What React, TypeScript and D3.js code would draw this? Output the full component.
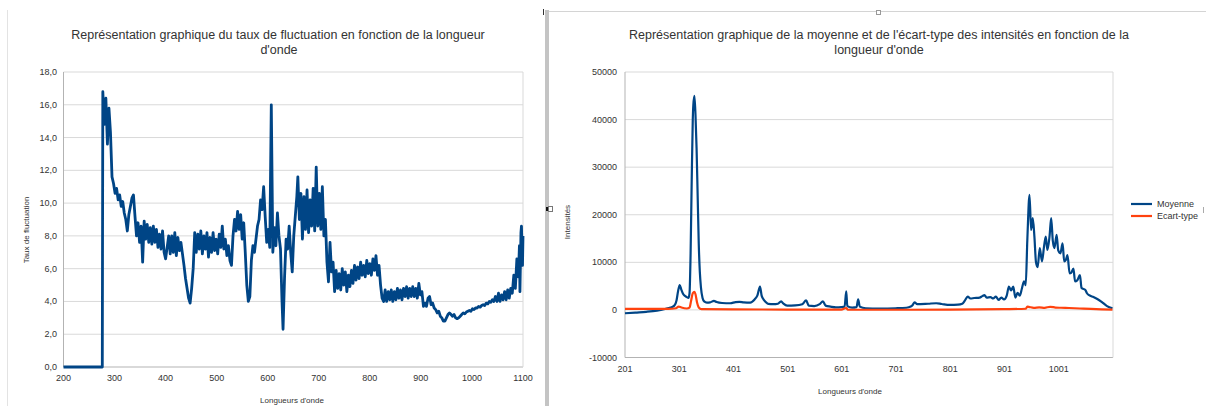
import React from "react";
import * as d3 from "d3";

// ---------- Left chart: Taux de fluctuation ----------
const fluxTicksY = [0, 2, 4, 6, 8, 10, 12, 14, 16, 18];
const fluxTicksX = [200, 300, 400, 500, 600, 700, 800, 900, 1000, 1100];
const fluxData: [number, number][] = [
  [200, 0], [276, 0], [277, 16.8], [280, 14.8], [283, 16.4], [286, 13.6], [289, 15.8],
  [292, 14.3], [295, 11.6], [298, 11.2], [301, 10.6], [304, 10.9], [307, 10.2], [310, 10.5],
  [313, 9.8], [316, 10.1], [319, 9.4], [322, 9.0], [325, 8.3], [328, 9.3], [331, 9.8],
  [334, 10.3], [337, 10.5], [340, 9.2], [343, 8.0], [346, 8.8], [349, 7.6], [352, 8.6],
  [355, 6.4], [358, 8.9], [361, 7.8], [364, 8.7], [367, 7.6], [370, 8.5], [373, 7.5],
  [376, 8.6], [379, 7.6], [382, 8.4], [385, 7.3], [388, 8.1], [391, 7.2], [394, 8.3],
  [397, 7.0], [400, 6.6], [403, 7.3], [406, 8.0], [409, 6.9], [412, 8.0], [415, 7.0],
  [418, 8.2], [421, 6.8], [424, 7.9], [427, 7.1], [430, 7.6], [433, 6.9], [436, 6.2],
  [439, 5.4], [442, 4.8], [445, 4.2], [448, 3.9], [451, 4.8], [454, 6.0], [457, 8.2],
  [460, 7.0], [463, 8.1], [466, 7.2], [469, 8.3], [472, 6.9], [475, 8.0], [478, 7.2],
  [481, 8.2], [484, 6.7], [487, 7.9], [490, 7.0], [493, 8.2], [496, 7.1], [499, 7.8],
  [502, 6.9], [505, 8.1], [508, 7.3], [511, 8.6], [514, 7.2], [517, 7.8], [520, 6.8],
  [523, 7.4], [526, 6.5], [529, 6.2], [532, 8.0], [535, 9.0], [538, 8.3], [541, 9.5],
  [544, 8.4], [547, 9.3], [550, 7.8], [553, 8.8], [556, 7.0], [559, 5.0], [562, 4.0],
  [565, 4.3], [568, 6.5], [571, 7.4], [574, 7.0], [577, 7.8], [580, 8.6], [583, 9.0],
  [586, 10.2], [589, 9.6], [592, 11.0], [595, 9.2], [598, 7.6], [601, 8.4], [604, 7.3],
  [607, 16.0], [610, 7.0], [613, 8.5], [616, 7.4], [619, 9.4], [622, 8.0], [625, 7.2],
  [628, 4.0], [630, 2.3], [633, 5.5], [636, 7.8], [639, 7.2], [642, 8.6], [645, 7.0],
  [648, 5.8], [651, 8.0], [654, 9.2], [657, 10.4], [659, 11.6], [662, 9.0], [665, 10.6],
  [668, 7.8], [671, 10.4], [674, 8.4], [677, 10.8], [680, 8.2], [683, 10.2], [686, 8.6],
  [689, 10.9], [692, 8.3], [695, 12.2], [698, 8.6], [701, 10.6], [704, 8.4], [707, 11.0],
  [710, 8.0], [713, 9.0], [716, 6.4], [719, 5.2], [722, 7.6], [725, 5.8], [728, 6.4],
  [731, 4.6], [734, 5.9], [737, 4.8], [740, 5.7], [743, 4.7], [746, 6.0], [749, 5.0],
  [752, 5.8], [755, 4.6], [758, 5.6], [761, 4.9], [764, 5.9], [767, 5.1], [770, 6.2],
  [773, 5.3], [776, 6.1], [779, 5.4], [782, 6.4], [785, 5.6], [788, 6.2], [791, 5.5],
  [794, 6.5], [797, 5.7], [800, 6.3], [803, 5.6], [806, 6.6], [809, 5.9], [812, 6.8],
  [815, 5.6], [818, 6.2], [821, 5.0], [824, 4.2], [827, 4.0], [830, 4.7], [833, 4.0],
  [836, 4.6], [839, 4.1], [842, 4.7], [845, 4.0], [848, 4.6], [851, 4.1], [854, 4.8],
  [857, 4.2], [860, 4.7], [863, 4.1], [866, 4.8], [869, 4.3], [872, 4.9], [875, 4.2],
  [878, 4.8], [881, 4.3], [884, 4.9], [887, 4.3], [890, 4.8], [893, 4.2], [896, 5.1],
  [899, 4.4], [902, 4.6], [905, 3.7], [908, 3.9], [911, 3.7], [914, 4.2], [917, 4.3],
  [920, 3.8], [923, 3.9], [926, 3.6], [929, 3.5], [932, 3.3], [935, 3.4], [938, 3.1],
  [941, 3.0], [944, 2.8], [947, 2.8], [950, 3.0], [953, 3.2], [956, 3.3], [959, 3.2],
  [962, 3.1], [965, 3.2], [968, 3.0], [971, 2.95], [974, 3.0], [977, 3.1], [980, 3.2],
  [983, 3.3], [986, 3.25], [989, 3.35], [992, 3.4], [995, 3.45], [998, 3.4], [1001, 3.55],
  [1004, 3.5], [1007, 3.6], [1010, 3.6], [1013, 3.7], [1016, 3.65], [1019, 3.75],
  [1022, 3.8], [1025, 3.75], [1028, 3.9], [1031, 3.85], [1034, 4.0], [1037, 3.95],
  [1040, 4.1], [1043, 4.0], [1046, 4.3], [1049, 4.0], [1052, 4.5], [1055, 4.0],
  [1058, 4.4], [1061, 4.1], [1064, 4.6], [1067, 4.1], [1070, 4.7], [1073, 4.2],
  [1076, 4.8], [1079, 4.5], [1082, 5.6], [1085, 4.8], [1088, 6.6], [1091, 5.5],
  [1093, 7.4], [1094, 4.6], [1096, 8.2], [1097, 8.6], [1099, 6.2], [1100, 8.0],
];

// ---------- Right chart: Moyenne / Ecart-type ----------
const intTicksY = [-10000, 0, 10000, 20000, 30000, 40000, 50000];
const intTicksX = [201, 301, 401, 501, 601, 701, 801, 901, 1001];
const moyenne: [number, number][] = [
  [201, -700], [220, -550], [240, -400], [260, -150], [275, 200], [285, 500], [292, 900],
  [296, 2000], [299, 4000], [302, 5200], [305, 4200], [308, 3400], [311, 3000], [315, 2700],
  [318, 2500], [320, 3500], [322, 12000], [324, 27000], [326, 40000], [327, 43000],
  [329, 45000], [331, 41000], [333, 34000], [335, 24000], [337, 14000], [339, 8000],
  [341, 4800], [344, 2500], [347, 1800], [352, 1550], [358, 1600], [365, 1900], [370, 1650],
  [380, 1450], [395, 1400], [405, 1650], [412, 1700], [420, 1600], [432, 1550], [440, 2200],
  [445, 3000], [450, 4900], [453, 3000], [456, 2300], [460, 1700], [465, 1250], [475, 1200],
  [483, 1300], [489, 1800], [493, 1350], [500, 900], [515, 950], [528, 1200], [535, 2000],
  [540, 900], [550, 800], [560, 1200], [566, 1800], [571, 900], [580, 700], [590, 550],
  [600, 600], [606, 700], [609, 3900], [611, 800], [620, 500], [628, 600], [631, 2200],
  [634, 700], [645, 350], [670, 300], [700, 350], [720, 450], [728, 700], [732, 1100],
  [735, 1600], [740, 1200], [760, 1300], [775, 1400], [785, 1250], [800, 1050], [815, 1100],
  [823, 1300], [828, 2000], [833, 2800], [838, 2400], [845, 2500], [855, 2600], [860, 2900],
  [864, 3100], [868, 2600], [875, 2700], [880, 2400], [885, 2800], [890, 2100], [895, 2600],
  [900, 2200], [905, 3000], [909, 4900], [913, 4100], [917, 4900], [921, 2600], [925, 3600],
  [929, 3000], [933, 4500], [937, 6000], [940, 5200], [943, 14700], [947, 24200],
  [950, 16800], [953, 19300], [956, 15500], [959, 10000], [962, 9000], [966, 13000],
  [970, 10200], [974, 13500], [977, 15400], [980, 12600], [984, 15500], [987, 19300],
  [990, 14500], [993, 13000], [997, 15800], [1000, 12500], [1004, 11900], [1008, 14000],
  [1011, 10200], [1014, 10500], [1017, 11500], [1021, 7700], [1024, 7800], [1028, 8700],
  [1031, 6000], [1035, 6200], [1040, 7300], [1043, 4600], [1050, 4200], [1053, 3500],
  [1057, 3100], [1065, 2700], [1072, 2300], [1080, 1700], [1090, 800], [1100, 350],
];
const ecartType: [number, number][] = [
  [201, 200], [280, 200], [295, 350], [300, 700], [305, 500], [315, 300], [320, 500],
  [323, 2000], [326, 3500], [329, 3800], [331, 3300], [334, 1500], [337, 500], [342, 150],
  [400, 100], [500, 80], [600, 50], [609, 400], [612, 60], [700, 30], [800, 50], [900, 150],
  [940, 250], [943, 700], [947, 600], [955, 450], [965, 550], [975, 450], [985, 650],
  [995, 500], [1005, 450], [1020, 400], [1040, 300], [1060, 200], [1080, 120], [1100, 50],
];
const legendLabels = ["Moyenne", "Ecart-type"];

const BLUE = "#004586";
const ORANGE = "#ff420e";
const GRID = "#d9d9d9";
const AXIS = "#b3b3b3";
const TXT = "#333333";
const FONT = "'Liberation Sans', Arial, sans-serif";

export default function App() {
  // left scales
  const lx = d3.scaleLinear().domain([200, 1100]).range([63.5, 523]);
  const ly = d3.scaleLinear().domain([0, 18]).range([367, 72]);
  const lLine = d3
    .line<[number, number]>()
    .x((d) => lx(d[0]))
    .y((d) => ly(d[1]));
  const fmtComma = (v: number) => d3.format(".1f")(v).replace(".", ",");

  // right scales
  const rx = d3.scaleLinear().domain([201, 1101]).range([625, 1113]);
  const ry = d3.scaleLinear().domain([-10000, 50000]).range([357.5, 72]);
  const rLine = d3
    .line<[number, number]>()
    .x((d) => rx(d[0]))
    .y((d) => ry(d[1]))
    .curve(d3.curveMonotoneX);

  return (
    <svg
      width={1206}
      height={406}
      style={{ position: "absolute", left: 0, top: 0, background: "#fff" }}
      fontFamily={FONT}
    >
      <rect x={0} y={0} width={1206} height={406} fill="#fff" />
      {/* panel decorations */}
      <line x1={7.5} y1={10} x2={7.5} y2={406} stroke="#e3e3e3" />
      <rect x={545} y={10} width={4} height={396} fill="#c4c4c4" />
      <line x1={549} y1={11.5} x2={1206} y2={11.5} stroke="#d4d4d4" />
      <rect x={543} y={9} width={1} height={6} fill="#333" />
      <rect x={876.5} y={10.5} width={4} height={4} fill="#fff" stroke="#999" />
      <rect x={546} y={207} width={3} height={4} fill="#111" />
      <rect x={548.5} y={206.5} width={4} height={5} fill="#fff" stroke="#777" />
      <rect x={1203} y={207} width={1} height={6} fill="#aaa" />

      {/* ---------------- LEFT CHART ---------------- */}
      <text x={278} y={39} fontSize={12.5} fill={TXT} textAnchor="middle">
        Représentation graphique du taux de fluctuation en fonction de la longueur
      </text>
      <text x={279} y={54} fontSize={12.5} fill={TXT} textAnchor="middle">
        d'onde
      </text>
      {fluxTicksY.map((t) => (
        <g key={"lg" + t}>
          <line
            x1={lx(200)}
            x2={lx(1100)}
            y1={ly(t)}
            y2={ly(t)}
            stroke={t === 0 ? AXIS : GRID}
            strokeWidth={1}
          />
          <text x={57} y={ly(t) + 3} fontSize={9} fill={TXT} textAnchor="end">
            {fmtComma(t)}
          </text>
        </g>
      ))}
      <line x1={lx(200)} x2={lx(200)} y1={ly(18)} y2={ly(0)} stroke={AXIS} />
      <line x1={lx(1100)} x2={lx(1100)} y1={ly(18)} y2={ly(0)} stroke={GRID} />
      {fluxTicksX.map((t) => (
        <text key={"lx" + t} x={lx(t)} y={381} fontSize={9} fill={TXT} textAnchor="middle">
          {t}
        </text>
      ))}
      <text x={292} y={403} fontSize={8} fill={TXT} textAnchor="middle">
        Longueurs d'onde
      </text>
      <text
        transform={`translate(29,230) rotate(-90)`}
        fontSize={8}
        fill={TXT}
        textAnchor="middle"
      >
        Taux de fluctuation
      </text>
      <path d={lLine(fluxData) || ""} fill="none" stroke={BLUE} strokeWidth={2.8} strokeLinejoin="round" />

      {/* ---------------- RIGHT CHART ---------------- */}
      <text x={879} y={39} fontSize={12.5} fill={TXT} textAnchor="middle">
        Représentation graphique de la moyenne et de l'écart-type des intensités en fonction de la
      </text>
      <text x={879} y={54} fontSize={12.5} fill={TXT} textAnchor="middle">
        longueur d'onde
      </text>
      {intTicksY.map((t) => (
        <g key={"rg" + t}>
          <line
            x1={rx(201)}
            x2={rx(1101)}
            y1={ry(t)}
            y2={ry(t)}
            stroke={t === -10000 ? AXIS : GRID}
          />
          <text x={617} y={ry(t) + 3} fontSize={9} fill={TXT} textAnchor="end">
            {t}
          </text>
        </g>
      ))}
      <line x1={rx(201)} x2={rx(201)} y1={ry(50000)} y2={ry(-10000)} stroke={AXIS} />
      <line x1={rx(1101)} x2={rx(1101)} y1={ry(50000)} y2={ry(-10000)} stroke={GRID} />
      {intTicksX.map((t) => (
        <text key={"rx" + t} x={rx(t)} y={372} fontSize={9} fill={TXT} textAnchor="middle">
          {t}
        </text>
      ))}
      <text x={850} y={394} fontSize={8} fill={TXT} textAnchor="middle">
        Longueurs d'onde
      </text>
      <text
        transform={`translate(570,222) rotate(-90)`}
        fontSize={8}
        fill={TXT}
        textAnchor="middle"
      >
        Intensités
      </text>
      <path d={rLine(moyenne) || ""} fill="none" stroke={BLUE} strokeWidth={2.2} strokeLinejoin="round" />
      <path d={rLine(ecartType) || ""} fill="none" stroke={ORANGE} strokeWidth={2.2} strokeLinejoin="round" />

      {/* legend */}
      {legendLabels.map((lab, i) => (
        <g key={lab}>
          <line
            x1={1131}
            x2={1152}
            y1={204 + i * 12}
            y2={204 + i * 12}
            stroke={i === 0 ? BLUE : ORANGE}
            strokeWidth={2.2}
          />
          <text x={1157} y={207 + i * 12} fontSize={9} fill={TXT}>
            {lab}
          </text>
        </g>
      ))}
    </svg>
  );
}
